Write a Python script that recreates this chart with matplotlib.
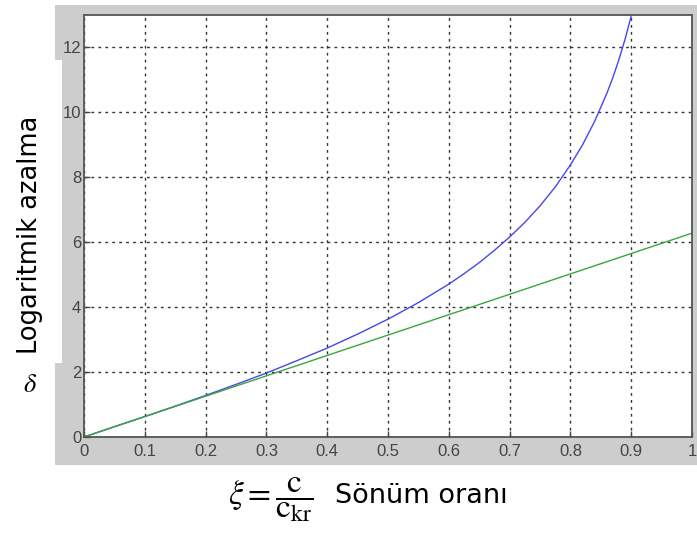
import matplotlib.pyplot as plt
from matplotlib.patches import Polygon

# values
xi_blue = [0, 0.05, 0.1, 0.15, 0.2, 0.25, 0.3, 0.35, 0.4, 0.45, 0.5, 0.55, 0.6, 0.625, 0.65,
           0.675, 0.7, 0.725, 0.75, 0.775, 0.8, 0.82, 0.84, 0.86, 0.87, 0.88, 0.89, 0.9]
delta_blue = [0, 0.32, 0.63, 0.95, 1.28, 1.62, 1.97, 2.35, 2.74, 3.17, 3.63, 4.14, 4.71, 5.03, 5.37,
              5.75, 6.16, 6.61, 7.12, 7.70, 8.38, 9.0, 9.73, 10.59, 11.08, 11.64, 12.26, 12.97]
xi_green = [0, 1]
delta_green = [0, 6.28]
xticks = [0, 0.1, 0.2, 0.3, 0.4, 0.5, 0.6, 0.7, 0.8, 0.9, 1]
yticks = [0, 2, 4, 6, 8, 10, 12]

W, H = 697, 544
fig = plt.figure(figsize=(W / 100, H / 100), dpi=100)

# gray frame behind the axes (with the little notch next to the label)
pts = [(55, 5), (697, 5), (697, 465), (55, 465), (55, 363), (62, 363), (62, 60), (55, 60)]
fig.patches.append(Polygon([(x / W, 1 - y / H) for x, y in pts], closed=True,
                           transform=fig.transFigure, facecolor='#cdcdcd',
                           edgecolor='none', zorder=-5))

ax = fig.add_axes([84 / W, 1 - 437 / H, (692 - 84) / W, (437 - 15) / H])
ax.set_zorder(2)
ax.plot(xi_blue, delta_blue, color='#4646ee', lw=1.0)
ax.plot(xi_green, delta_green, color='#3aa53a', lw=1.0)

ax.set_xlim(0, 1)
ax.set_ylim(0, 13)
ax.set_xticks(xticks)
ax.set_xticklabels(['0', '0.1', '0.2', '0.3', '0.4', '0.5', '0.6', '0.7', '0.8', '0.9', '1'])
ax.set_yticks(yticks)
ax.grid(True, color='#333333', linestyle=(0, (2, 3)), linewidth=1.0)
ax.tick_params(direction='in', length=4, width=1, color='#444444',
               labelsize=12, labelcolor='#444444', pad=2)
ax.tick_params(axis='x', pad=5)
for lab in ax.get_xticklabels() + ax.get_yticklabels():
    lab.set_family('Liberation Sans')
for s in ax.spines.values():
    s.set_color('#555555')
    s.set_linewidth(1.3)

fig.text(30 / W, 1 - 235 / H, 'Logaritmik azalma', rotation=90, ha='center',
         va='center', fontsize=18.5, family='DejaVu Sans')
fig.text(30 / W, 1 - 385 / H, r'$\delta$', ha='center', va='center',
         fontsize=19, math_fontfamily='stix')
fig.text(271 / W, 1 - 500 / H, r'$\xi = \dfrac{\mathrm{c}}{\mathrm{c}_{\mathrm{kr}}}$',
         ha='center', va='center', fontsize=24, math_fontfamily='stix')
fig.text(335 / W, 1 - 496 / H, 'Sönüm oranı', ha='left', va='center',
         fontsize=19.5, family='DejaVu Sans')

fig.savefig('out.png', dpi=100)
